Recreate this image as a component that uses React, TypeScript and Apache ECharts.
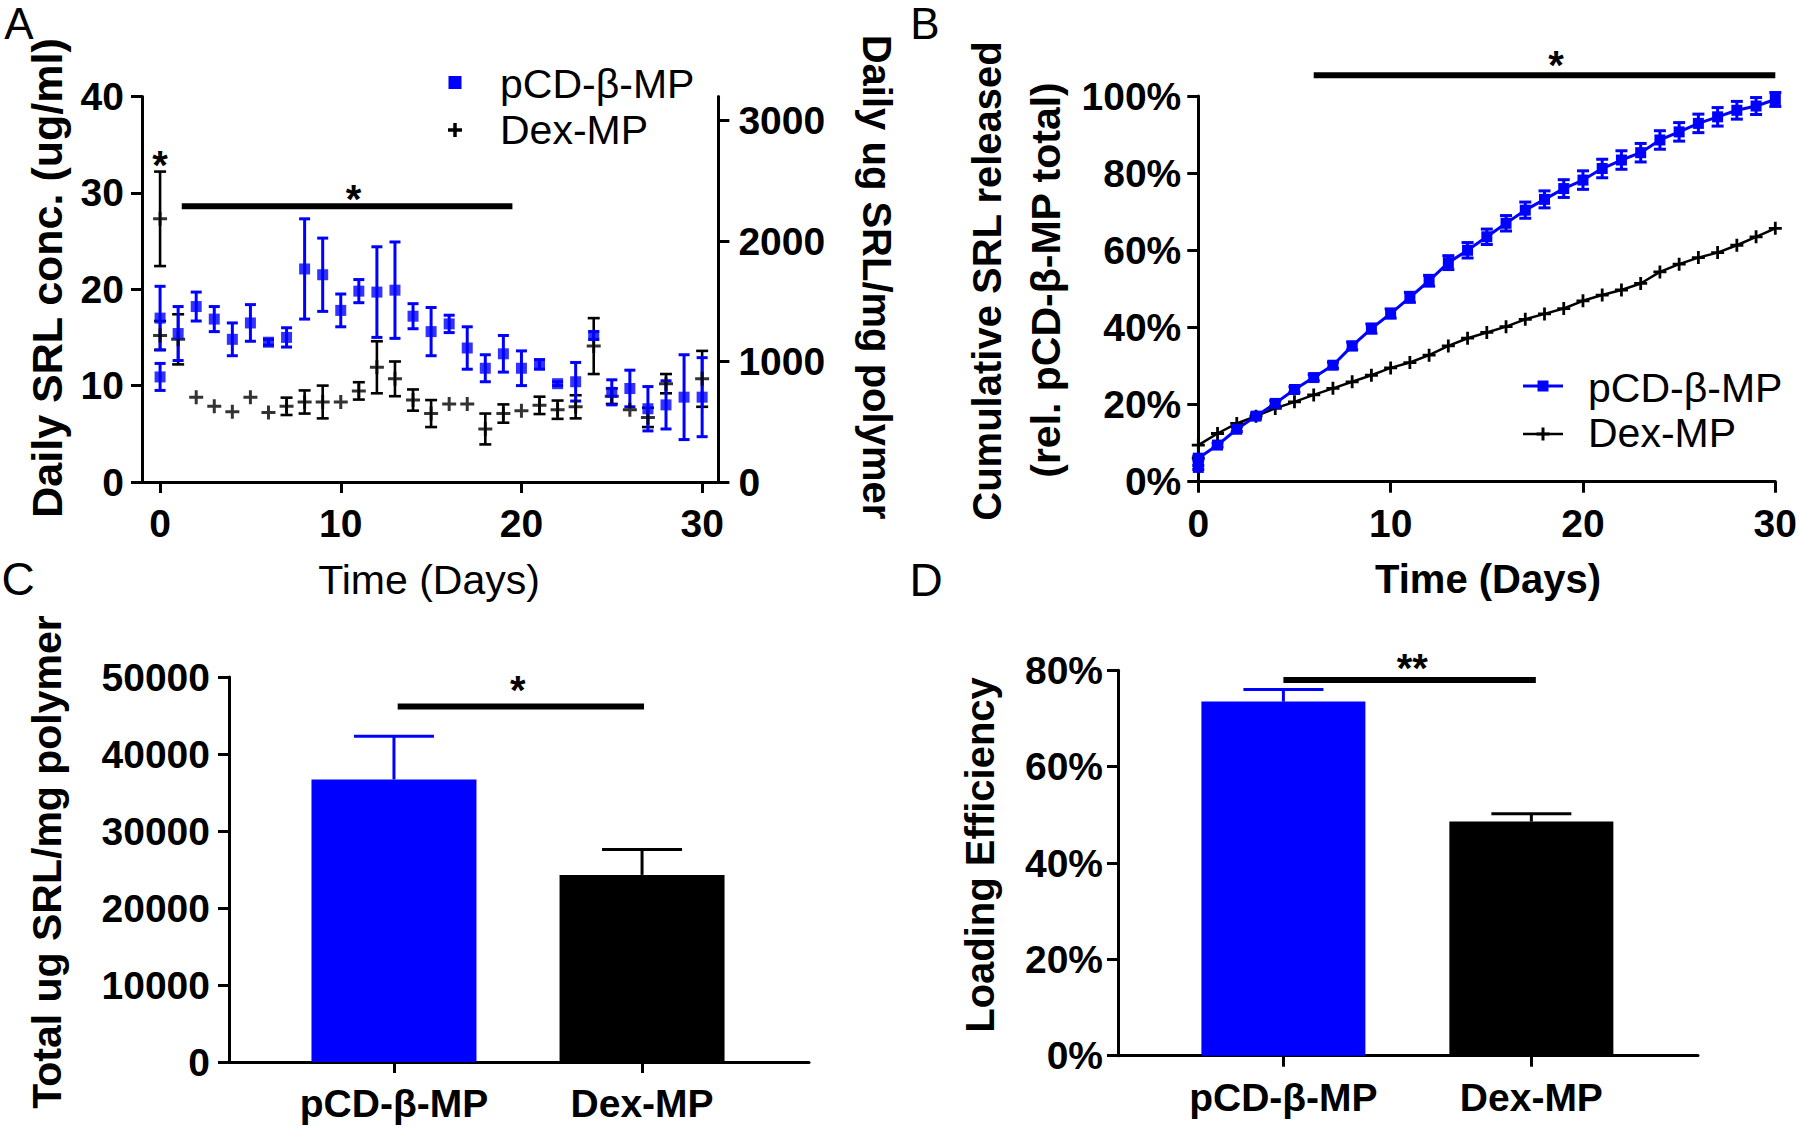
import React, { useEffect, useRef } from 'react';
import * as echarts from 'echarts';

const FONT = '"Liberation Sans", Arial, Helvetica, sans-serif';
const BLUE = '#0000ff';
const BLACK = '#000000';

// ---------- Panel A: daily release ----------
const aDays = [0, 0, 1, 2, 3, 4, 5, 6, 7, 8, 9, 10, 11, 12, 13, 14, 15, 16, 17, 18, 19, 20, 21, 22, 23, 24, 25, 26, 27, 28, 29, 30];
const aBlueMean = [17.0, 10.9, 15.4, 18.2, 16.9, 14.8, 16.5, 14.5, 15.0, 22.1, 21.5, 17.8, 19.8, 19.7, 19.9, 17.2, 15.6, 16.4, 13.9, 11.8, 13.3, 11.8, 12.2, 10.2, 10.4, 15.2, 9.3, 9.7, 7.6, 8.0, 8.8, 8.8];
const aBlueSem = [3.3, 1.4, 2.8, 1.5, 1.3, 1.7, 1.9, 0.3, 1.0, 5.2, 3.8, 1.7, 1.2, 4.7, 5.0, 1.3, 2.5, 0.9, 2.2, 1.4, 1.9, 1.8, 0.5, 0.2, 2.0, 0.4, 1.3, 1.9, 2.3, 2.5, 4.4, 4.1];
const aDexMean = [27.3, 15.2, 14.8, 8.8, 7.85, 7.3, 8.8, 7.2, 7.85, 8.3, 8.3, 8.3, 9.45, 11.9, 10.7, 8.5, 7.1, 8.1, 8.1, 5.5, 7.1, 7.4, 7.95, 7.5, 7.8, 14.1, 8.9, 7.5, 6.7, 10.2, null, 10.7];
const aDexSem = [4.9, 1.5, 2.6, 0, 0, 0, 0, 0, 0.9, 1.2, 1.7, 0, 0.9, 2.7, 1.8, 1.1, 1.4, 0, 0, 1.6, 0.95, 0, 0.9, 0.95, 1.2, 2.9, 0.8, 0, 1.0, 1.0, null, 2.9];
const aDayTicks = [0, 10, 20, 30];
const aRightTicks = [0, 1000, 2000, 3000];

// ---------- Panel B: cumulative release (%) ----------
const bDays = [0, 0, 1, 2, 3, 4, 5, 6, 7, 8, 9, 10, 11, 12, 13, 14, 15, 16, 17, 18, 19, 20, 21, 22, 23, 24, 25, 26, 27, 28, 29, 30];
const bBlueCum = [3.7, 6.1, 9.5, 13.6, 17.0, 20.3, 23.9, 27.0, 30.2, 35.2, 39.7, 43.6, 47.8, 52.1, 56.8, 60.0, 63.5, 67.0, 70.4, 73.2, 76.0, 78.2, 81.2, 83.4, 85.3, 88.6, 90.7, 92.9, 94.6, 96.3, 97.4, 99.1];
const bBlueSem = [0.5, 0.5, 0.5, 0.6, 0.6, 0.7, 0.7, 0.8, 0.8, 1.0, 1.2, 1.2, 1.3, 1.4, 1.8, 2.0, 2.0, 2.0, 2.1, 2.2, 2.3, 2.4, 2.4, 2.4, 2.4, 2.4, 2.4, 2.4, 2.4, 2.3, 2.2, 1.8];
const bDexCum = [6.1, 9.5, 12.5, 15.1, 17.0, 19.0, 20.7, 22.5, 24.2, 25.9, 27.6, 29.5, 30.9, 32.8, 35.2, 37.2, 38.7, 40.2, 42.1, 43.5, 44.9, 46.9, 48.4, 49.7, 51.4, 54.4, 56.4, 58.1, 59.4, 61.3, 63.5, 65.7];

// ---------- Panels C & D: bars ----------
const groups = ['pCD-β-MP', 'Dex-MP'];
const groupPos = [1, 2];
const groupColors = [BLUE, BLACK];
const cTotal = [36700, 24300];
const cSem = [5600, 3300];
const dEff = [73.5, 48.6];
const dSem = [2.5, 1.6];

const PLUS = 'path://M5.5,0H8.5V5.5H14V8.5H8.5V14H5.5V8.5H0V5.5H5.5Z';

const plain = (v: number) => String(v);
const tickLabel = (extra: any = {}) => ({
  color: BLACK,
  fontFamily: FONT,
  fontWeight: 'bold',
  fontSize: 39,
  formatter: plain,
  ...extra,
});
const axisLine = { show: true, onZero: false, lineStyle: { color: BLACK, width: 3 } };
const axisTick = (extra: any = {}) => ({ show: true, length: 11, lineStyle: { color: BLACK, width: 3 }, ...extra });

function errRender(color: string, cap: number, lw: number, upperOnly = false) {
  return (params: any, api: any) => {
    const x = api.value(0);
    const y = api.value(1);
    const e = api.value(2);
    if (!(e > 0)) return null;
    const top = api.coord([x, y + e]);
    const bot = api.coord([x, upperOnly ? y : y - e]);
    const h = cap / 2;
    const style = { stroke: color, lineWidth: lw };
    const children: any[] = [
      { type: 'line', shape: { x1: top[0], y1: top[1], x2: bot[0], y2: bot[1] }, style },
      { type: 'line', shape: { x1: top[0] - h, y1: top[1], x2: top[0] + h, y2: top[1] }, style },
    ];
    if (!upperOnly) children.push({ type: 'line', shape: { x1: bot[0] - h, y1: bot[1], x2: bot[0] + h, y2: bot[1] }, style });
    return { type: 'group', children };
  };
}

const triples = (xs: number[], ms: (number | null)[], es: (number | null)[]) =>
  xs.map((x, i) => [x, ms[i], es[i]]).filter((d) => d[1] != null);
const pairs = (xs: number[], ms: (number | null)[]) =>
  xs.map((x, i) => [x, ms[i]]).filter((d) => d[1] != null);

function txt(text: string, x: number, y: number, size: number, bold: boolean, rotation = 0, align = 'center') {
  return {
    type: 'text',
    x,
    y,
    rotation,
    silent: true,
    style: {
      text,
      x: 0,
      y: 0,
      fill: BLACK,
      fontFamily: FONT,
      fontSize: size,
      fontWeight: bold ? 'bold' : 'normal',
      align,
      verticalAlign: 'middle',
    },
  };
}

export default function App() {
  const ref = useRef<HTMLDivElement>(null);
  useEffect(() => {
    if (!ref.current) return;
    const chart = echarts.init(ref.current, undefined, { renderer: 'svg' });
    const groupLabel = (v: number) => groups[Math.round(v) - 1] ?? '';
    const option: any = {
      animation: false,
      backgroundColor: '#ffffff',
      grid: [
        { left: 142, top: 96.4, width: 576.4, height: 385.6 },
        { left: 1198.3, top: 96, width: 577.5, height: 385.7 },
        { left: 229, top: 677, width: 580, height: 385 },
        { left: 1118, top: 670.3, width: 580, height: 385.4 },
      ],
      xAxis: [
        {
          gridIndex: 0, type: 'value', min: -1, max: 30.9,
          axisLine, axisTick: axisTick({ customValues: aDayTicks }),
          axisLabel: tickLabel({ customValues: aDayTicks, margin: 22 }),
          splitLine: { show: false },
        },
        {
          gridIndex: 1, type: 'value', min: 0, max: 30, interval: 10,
          axisLine, axisTick: axisTick(),
          axisLabel: tickLabel({ margin: 22 }),
          splitLine: { show: false },
        },
        {
          gridIndex: 2, type: 'value', min: 0.335, max: 2.673,
          axisLine, axisTick: axisTick({ customValues: groupPos }),
          axisLabel: tickLabel({ customValues: groupPos, margin: 22, formatter: groupLabel }),
          splitLine: { show: false },
        },
        {
          gridIndex: 3, type: 'value', min: 0.333, max: 2.672,
          axisLine, axisTick: axisTick({ customValues: groupPos }),
          axisLabel: tickLabel({ customValues: groupPos, margin: 22, formatter: groupLabel }),
          splitLine: { show: false },
        },
      ],
      yAxis: [
        {
          gridIndex: 0, type: 'value', min: 0, max: 40, interval: 10, position: 'left',
          axisLine, axisTick: axisTick(), axisLabel: tickLabel({ margin: 18 }), splitLine: { show: false },
        },
        {
          gridIndex: 0, type: 'value', min: 0, max: 3200, position: 'right',
          axisLine, axisTick: axisTick({ customValues: aRightTicks }),
          axisLabel: tickLabel({ customValues: aRightTicks, margin: 20 }), splitLine: { show: false },
        },
        {
          gridIndex: 1, type: 'value', min: 0, max: 100, interval: 20,
          axisLine, axisTick: axisTick(), axisLabel: tickLabel({ margin: 17, formatter: (v: number) => v + '%' }), splitLine: { show: false },
        },
        {
          gridIndex: 2, type: 'value', min: 0, max: 50000, interval: 10000,
          axisLine, axisTick: axisTick(), axisLabel: tickLabel({ margin: 19 }), splitLine: { show: false },
        },
        {
          gridIndex: 3, type: 'value', min: 0, max: 80, interval: 20,
          axisLine, axisTick: axisTick(), axisLabel: tickLabel({ margin: 15, formatter: (v: number) => v + '%' }), splitLine: { show: false },
        },
      ],
      series: [
        // Panel A
        {
          name: 'Dex-MP', type: 'custom', xAxisIndex: 0, yAxisIndex: 0,
          renderItem: errRender(BLACK, 12, 2.6), encode: { x: 0, y: 1 },
          data: triples(aDays, aDexMean, aDexSem), silent: true,
        },
        {
          name: 'Dex-MP', type: 'scatter', xAxisIndex: 0, yAxisIndex: 0,
          symbol: PLUS, symbolSize: 14, itemStyle: { color: BLACK },
          data: pairs(aDays, aDexMean), silent: true,
        },
        {
          name: 'pCD-β-MP', type: 'custom', xAxisIndex: 0, yAxisIndex: 0,
          renderItem: errRender(BLUE, 11, 3), encode: { x: 0, y: 1 },
          data: triples(aDays, aBlueMean, aBlueSem), silent: true,
        },
        {
          name: 'pCD-β-MP', type: 'scatter', xAxisIndex: 0, yAxisIndex: 0,
          symbol: 'rect', symbolSize: 11, itemStyle: { color: BLUE },
          data: pairs(aDays, aBlueMean), silent: true,
        },
        // Panel B
        {
          name: 'Dex-MP', type: 'line', xAxisIndex: 1, yAxisIndex: 2,
          symbol: PLUS, symbolSize: 13, showSymbol: true,
          itemStyle: { color: BLACK }, lineStyle: { color: BLACK, width: 2.5 },
          data: pairs(bDays, bDexCum), silent: true,
        },
        {
          name: 'pCD-β-MP', type: 'custom', xAxisIndex: 1, yAxisIndex: 2,
          renderItem: errRender(BLUE, 12, 3), encode: { x: 0, y: 1 },
          data: triples(bDays, bBlueCum, bBlueSem), silent: true,
        },
        {
          name: 'pCD-β-MP', type: 'line', xAxisIndex: 1, yAxisIndex: 2,
          symbol: 'rect', symbolSize: 11, showSymbol: true,
          itemStyle: { color: BLUE }, lineStyle: { color: BLUE, width: 3 },
          data: pairs(bDays, bBlueCum), silent: true,
        },
        // Panel C
        {
          type: 'bar', xAxisIndex: 2, yAxisIndex: 3, barWidth: 165, silent: true,
          data: groupPos.map((p, i) => ({ value: [p, cTotal[i]], itemStyle: { color: groupColors[i] } })),
        },
        ...groupPos.map((p, i) => ({
          type: 'custom', xAxisIndex: 2, yAxisIndex: 3, silent: true,
          renderItem: errRender(groupColors[i], 80, 3, true), encode: { x: 0, y: 1 },
          data: [[p, cTotal[i], cSem[i]]],
        })),
        // Panel D
        {
          type: 'bar', xAxisIndex: 3, yAxisIndex: 4, barWidth: 164, silent: true,
          data: groupPos.map((p, i) => ({ value: [p, dEff[i]], itemStyle: { color: groupColors[i] } })),
        },
        ...groupPos.map((p, i) => ({
          type: 'custom', xAxisIndex: 3, yAxisIndex: 4, silent: true,
          renderItem: errRender(groupColors[i], 80, 3, true), encode: { x: 0, y: 1 },
          data: [[p, dEff[i], dSem[i]]],
        })),
      ],
    };
    chart.setOption(option);

    const P = (xi: number, yi: number, x: number, y: number) =>
      chart.convertToPixel({ xAxisIndex: xi, yAxisIndex: yi } as any, [x, y]) as number[];
    const sigBar = (a: number[], b: number[]) => ({
      type: 'line', silent: true,
      shape: { x1: a[0], y1: a[1], x2: b[0], y2: b[1] },
      style: { stroke: BLACK, lineWidth: 6 },
    });
    const star = (s: string, p: number[], up: number) => txt(s, p[0], p[1] - up + 6, 40, true);

    // significance annotations (data coordinates)
    const aBarL = P(0, 0, 1.2, 28.6), aBarR = P(0, 0, 19.5, 28.6);
    const aStar = P(0, 0, 10.7, 28.6);
    const aStar0 = P(0, 0, 0, aDexMean[0]! + aDexSem[0]!);
    const bBarL = P(1, 2, 6, 105.4), bBarR = P(1, 2, 30, 105.4), bStar = P(1, 2, 18.6, 105.4);
    const cBarL = P(2, 3, 1.015, 46180), cBarR = P(2, 3, 2.008, 46180), cStar = P(2, 3, 1.499, 46180);
    const dBarL = P(3, 4, 1.0, 78.0), dBarR = P(3, 4, 2.018, 78.0), dStar = P(3, 4, 1.52, 78.0);

    const graphic: any[] = [
      // panel letters
      txt('A', 19, 23, 44, false),
      txt('B', 925, 23, 44, false),
      txt('C', 18, 579, 46, false),
      txt('D', 926, 580, 46, false),
      // axis titles
      txt('Daily SRL conc. (ug/ml)', 47, 278, 43, true, Math.PI / 2),
      txt('Daily ug SRL/mg polymer', 877, 277, 40, true, -Math.PI / 2),
      txt('Time (Days)', 429, 580, 41, false),
      txt('Cumulative SRL released', 987, 281, 40, true, Math.PI / 2),
      txt('(rel. pCD-β-MP total)', 1046, 280, 41, true, Math.PI / 2),
      txt('Time (Days)', 1488, 579, 40, true),
      txt('Total ug SRL/mg polymer', 47, 862, 41, true, Math.PI / 2),
      txt('Loading Efficiency', 980, 855, 40, true, Math.PI / 2),
      // legend A
      { type: 'rect', silent: true, shape: { x: 448.5, y: 76, width: 13, height: 13 }, style: { fill: BLUE } },
      { type: 'rect', silent: true, shape: { x: 448, y: 128.25, width: 14, height: 3.5 }, style: { fill: BLACK } },
      { type: 'rect', silent: true, shape: { x: 453.25, y: 123, width: 3.5, height: 14 }, style: { fill: BLACK } },
      txt('pCD-β-MP', 500, 84, 41, false, 0, 'left'),
      txt('Dex-MP', 500, 130, 41, false, 0, 'left'),
      // legend B
      { type: 'line', silent: true, shape: { x1: 1523, y1: 386, x2: 1563, y2: 386 }, style: { stroke: BLUE, lineWidth: 3 } },
      { type: 'rect', silent: true, shape: { x: 1537.5, y: 380.5, width: 11, height: 11 }, style: { fill: BLUE } },
      { type: 'line', silent: true, shape: { x1: 1523, y1: 434, x2: 1563, y2: 434 }, style: { stroke: BLACK, lineWidth: 2.5 } },
      { type: 'rect', silent: true, shape: { x: 1536.5, y: 432.5, width: 13, height: 3 }, style: { fill: BLACK } },
      { type: 'rect', silent: true, shape: { x: 1541.5, y: 427.5, width: 3, height: 13 }, style: { fill: BLACK } },
      txt('pCD-β-MP', 1588, 388, 41, false, 0, 'left'),
      txt('Dex-MP', 1588, 433, 41, false, 0, 'left'),
      // significance
      sigBar(aBarL, aBarR), star('*', aStar, 13), star('*', aStar0, 13),
      sigBar(bBarL, bBarR), star('*', bStar, 16),
      sigBar(cBarL, cBarR), star('*', cStar, 22),
      sigBar(dBarL, dBarR), star('**', dStar, 17.5),
    ];
    chart.setOption({ graphic });

    return () => chart.dispose();
  }, []);
  return (
    <div
      ref={ref}
      style={{ position: 'fixed', left: 0, top: 0, width: 1800, height: 1130, background: '#ffffff' }}
    />
  );
}
